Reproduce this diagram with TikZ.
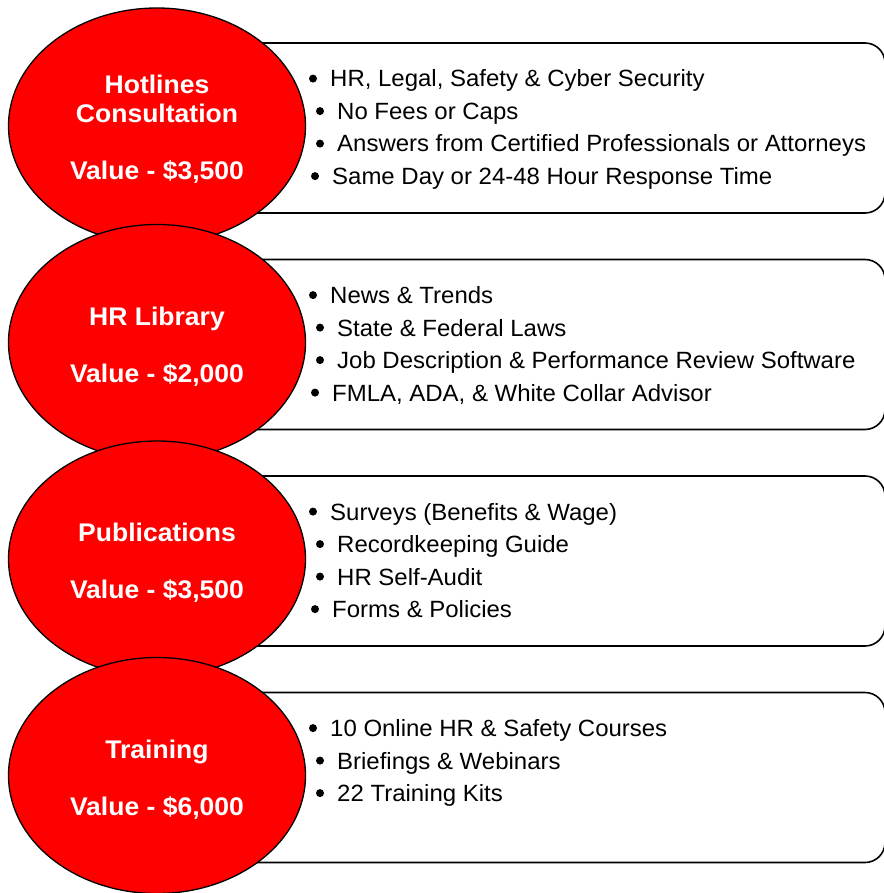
\documentclass[tikz,border=0pt]{standalone}
\usepackage{fontspec}
\setmainfont{Liberation Sans}
\newfontfamily\itmfont[FakeStretch=1.02]{Liberation Sans}
\newfontfamily\ttlfont[FakeStretch=1.04]{Liberation Sans}
\usetikzlibrary{shapes.geometric}
\definecolor{bigred}{RGB}{255,0,0}
\begin{document}
\begin{tikzpicture}[x=1pt,y=-1pt,
  card/.style={draw=black, line width=1.6pt, fill=white, rounded corners=20pt,
    rectangle, minimum width=685pt, minimum height=170pt, inner sep=0pt},
  bigell/.style={draw=black, line width=1.3pt, fill=bigred, ellipse,
    minimum width=297pt, minimum height=236pt, inner sep=0pt},
  ttl/.style={anchor=base, inner sep=0pt, text=white,
    font=\ttlfont\fontsize{25.5}{29}\selectfont\bfseries},
  bul/.style={circle, fill=black, draw=none, minimum size=8pt, inner sep=0pt, yshift=8.4pt},
  itm/.style={anchor=base west, inner sep=0pt, font=\itmfont\fontsize{23.5}{32}\selectfont}]
\useasboundingbox (0,0) rectangle (883,893);

% ---------- Row 1 ----------
\node[card] (r1) at (542.5,128) {};
\node[bigell] (e1) at (157,126) {};
\node[ttl] (t1a) at (157,93.5) {Hotlines};
\node[ttl] (t1b) at (157,123) {Consultation};
\node[ttl] (v1) at (157,180) {Value - \$3,500};
\node[bul] (b1a) at (313,87) {};
\node[itm] (i1a) at (330,87) {HR, Legal, Safety \& Cyber Security};
\node[bul] (b1b) at (320,119.5) {};
\node[itm] (i1b) at (337,119.5) {No Fees or Caps};
\node[bul] (b1c) at (320,152) {};
\node[itm] (i1c) at (337,152) {Answers from Certified Professionals or Attorneys};
\node[bul] (b1d) at (315,184.5) {};
\node[itm] (i1d) at (332,184.5) {Same Day or 24-48 Hour Response Time};

% ---------- Row 2 ----------
\node[card] (r2) at (542.5,344.5) {};
\node[bigell] (e2) at (157,342.5) {};
\node[ttl] (t2a) at (157,325) {HR Library};
\node[ttl] (v2) at (157,382) {Value - \$2,000};
\node[bul] (b2a) at (313,303.5) {};
\node[itm] (i2a) at (330,303.5) {News \& Trends};
\node[bul] (b2b) at (320,336) {};
\node[itm] (i2b) at (337,336) {State \& Federal Laws};
\node[bul] (b2c) at (320,368.5) {};
\node[itm] (i2c) at (337,368.5) {Job Description \& Performance Review Software};
\node[bul] (b2d) at (315,401) {};
\node[itm] (i2d) at (332,401) {FMLA, ADA, \& White Collar Advisor};

% ---------- Row 3 ----------
\node[card] (r3) at (542.5,561) {};
\node[bigell] (e3) at (157,559) {};
\node[ttl] (t3a) at (157,541.5) {Publications};
\node[ttl] (v3) at (157,598.5) {Value - \$3,500};
\node[bul] (b3a) at (313,520) {};
\node[itm] (i3a) at (330,520) {Surveys (Benefits \& Wage)};
\node[bul] (b3b) at (320,552.5) {};
\node[itm] (i3b) at (337,552.5) {Recordkeeping Guide};
\node[bul] (b3c) at (320,585) {};
\node[itm] (i3c) at (337,585) {HR Self-Audit};
\node[bul] (b3d) at (315,617.5) {};
\node[itm] (i3d) at (332,617.5) {Forms \& Policies};

% ---------- Row 4 ----------
\node[card] (r4) at (542.5,777.5) {};
\node[bigell] (e4) at (157,775.5) {};
\node[ttl] (t4a) at (157,758) {Training};
\node[ttl] (v4) at (157,815) {Value - \$6,000};
\node[bul] (b4a) at (313,736.5) {};
\node[itm] (i4a) at (330,736.5) {10 Online HR \& Safety Courses};
\node[bul] (b4b) at (320,769) {};
\node[itm] (i4b) at (337,769) {Briefings \& Webinars};
\node[bul] (b4c) at (320,801.5) {};
\node[itm] (i4c) at (337,801.5) {22 Training Kits};
\end{tikzpicture}
\end{document}
